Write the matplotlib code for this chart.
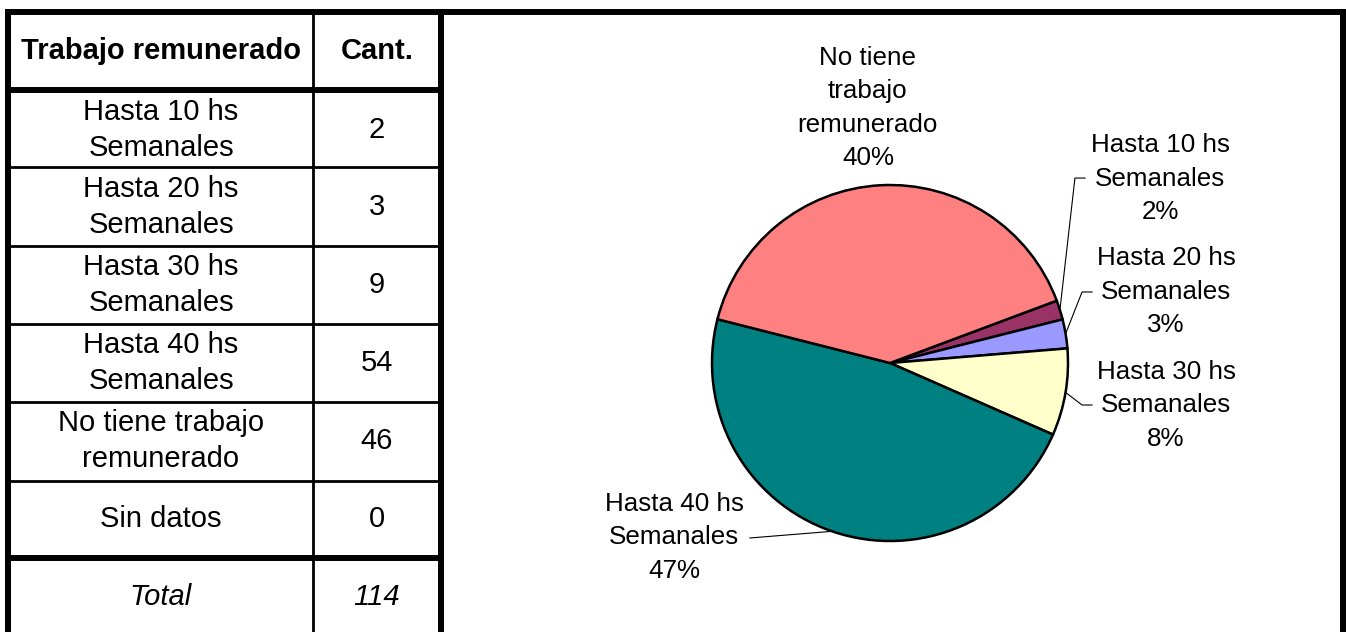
import numpy as np
import matplotlib
matplotlib.use("Agg")
import matplotlib.pyplot as plt

plt.rcParams['font.family'] = ['Liberation Sans', 'DejaVu Sans']

# data
categories = ["Hasta 10 hs\nSemanales", "Hasta 20 hs\nSemanales", "Hasta 30 hs\nSemanales",
              "Hasta 40 hs\nSemanales", "No tiene trabajo\nremunerado", "Sin datos"]
counts = [2, 3, 9, 54, 46, 0]
pie_labels = ["Hasta 10 hs\nSemanales", "Hasta 20 hs\nSemanales", "Hasta 30 hs\nSemanales",
              "Hasta 40 hs\nSemanales", "No tiene\ntrabajo\nremunerado"]
header = ["Trabajo remunerado", "Cant."]
total_label = "Total"
colors = ["#993366", "#9999FF", "#FFFFCC", "#008080", "#FF8080"]

W, H = 1346, 632
fig = plt.figure(figsize=(W / 100, H / 100), dpi=100)

# overlay axes in pixel units for the table and frames
bg = fig.add_axes([0, 0, 1, 1])
bg.set_xlim(0, W)
bg.set_ylim(H, 0)
bg.axis('off')

thick = 4.3
thin = 2.0
# outer frame
bg.plot([8, 8], [9, H], color='k', lw=thick, solid_capstyle='butt')
bg.plot([441, 441], [9, H], color='k', lw=thick, solid_capstyle='butt')
bg.plot([1343, 1343], [9, H], color='k', lw=thick, solid_capstyle='butt')
bg.plot([5, W], [12, 12], color='k', lw=thick, solid_capstyle='butt')
# table grid
col_div = 312.5
bg.plot([col_div, col_div], [12, H], color='k', lw=thin, solid_capstyle='butt')
bg.plot([8, 441], [90, 90], color='k', lw=thick, solid_capstyle='butt')
bg.plot([8, 441], [558, 558], color='k', lw=thick, solid_capstyle='butt')
for y in [167, 245.5, 323.5, 402, 480.5]:
    bg.plot([8, 441], [y, y], color='k', lw=thin, solid_capstyle='butt')

fs_tab = 21
c1, c2 = 161, 377
bg.text(c1, 51, header[0], ha='center', va='center', fontsize=fs_tab, fontweight='bold')
bg.text(c2, 51, header[1], ha='center', va='center', fontsize=fs_tab, fontweight='bold')
row_y = [130, 207, 285, 363, 441, 519]
for cat, n, y in zip(categories, counts, row_y):
    bg.text(c1, y, cat, ha='center', va='center', fontsize=fs_tab, linespacing=1.33,
            multialignment='center')
    bg.text(c2, y, str(n), ha='center', va='center', fontsize=fs_tab)
bg.text(c1, 597, total_label, ha='center', va='center', fontsize=fs_tab, style='italic')
bg.text(c2, 597, str(sum(counts)), ha='center', va='center', fontsize=fs_tab, style='italic')

# pie chart
R = 178
cx, cy = 890, 363
ax = fig.add_axes([(cx - R) / W, (H - cy - R) / H, 2 * R / W, 2 * R / H])
vals = [v for v in counts if v > 0]
wedges, _ = ax.pie(vals, colors=colors, startangle=20.5, counterclock=False, radius=1,
                   wedgeprops=dict(edgecolor='k', linewidth=1.8))
for w in wedges:
    w.set_clip_on(False)
ax.set_xlim(-1, 1)
ax.set_ylim(-1, 1)
ax.axis('off')

total = sum(vals)
# label layout (data units, radius = 1): text centre, elbow points
label_pos = [(1.517, 1.034), (1.551, 0.399), (1.551, -0.236), (-1.213, -0.978), (-0.124, 1.433)]
leader = [[(1.039, 1.039), (1.096, 1.039)],
          [(1.079, 0.399), (1.135, 0.399)],
          [(1.079, -0.236), (1.135, -0.236)],
          [(-0.787, -0.983)],
          None]
for w, v, lab, pos, ld in zip(wedges, vals, pie_labels, label_pos, leader):
    pct = round(100 * v / total)
    ax.text(pos[0], pos[1], f"{lab}\n{pct}%", ha='center', va='center', fontsize=18.7,
            linespacing=1.5, multialignment='center')
    if ld is not None:
        mid = np.deg2rad((w.theta1 + w.theta2) / 2)
        xs = [np.cos(mid)] + [p[0] for p in ld]
        ys = [np.sin(mid)] + [p[1] for p in ld]
        ax.plot(xs, ys, color='k', lw=0.8, clip_on=False)

fig.savefig("out.png", dpi=100)
